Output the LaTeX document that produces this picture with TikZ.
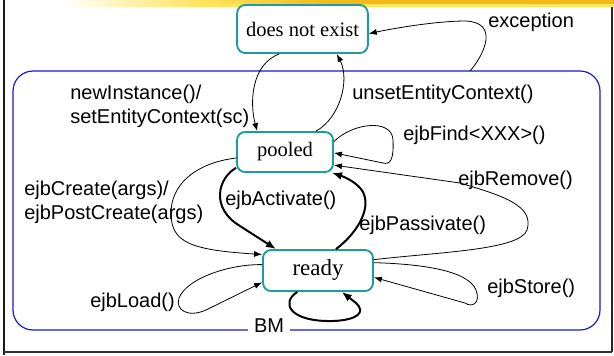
\documentclass[tikz,border=0pt]{standalone}
\usepackage{fontspec}
\setmainfont{Liberation Serif}
\setsansfont{Liberation Sans}
\usetikzlibrary{arrows.meta}

\definecolor{stateteal}{RGB}{30,155,155}
\definecolor{boxblue}{RGB}{25,25,205}
\definecolor{bandgold}{RGB}{245,185,25}
\definecolor{bandlight}{RGB}{255,228,95}

\tikzset{
  state/.style={draw=stateteal, line width=1.4pt, rounded corners=6pt, fill=white, inner sep=0pt},
  trans/.style={-{Latex[length=6pt,width=4.5pt]}, line width=0.6pt},
  heavy/.style={-{Latex[length=7.5pt,width=6pt]}, line width=1.5pt},
  lbl/.style={font=\sffamily\fontsize{15}{18}\selectfont, inner sep=0pt, anchor=west, align=left},
}

\begin{document}
\begin{tikzpicture}[x=0.75pt, y=-0.75pt]
            \useasboundingbox (0,0) rectangle (614,355);

            % Slide band and frame
            \shade[left color=white, right color=bandlight] (60,0) rectangle (200,6);
            \fill[bandlight] (200,0) rectangle (614,7);
            \shade[left color=bandlight, right color=bandgold] (200,0) rectangle (330,3.5);
            \fill[bandgold] (330,0) rectangle (614,3.5);
            \draw[line width=1.9pt, black!90] (4,0) -- (4,355);
            \draw[line width=1.5pt, black!85] (612,7) -- (612,352);
            \draw[line width=1.2pt, black!80] (4,352) -- (612,352);

            % Region holding the live bean states
            \draw[boxblue, line width=0.9pt, rounded corners=15pt] (13,71) rectangle (600,330);

            % States
            \node[state, minimum width=98pt, minimum height=36pt, font=\fontsize{15.4}{18}\selectfont] (dne) at (302.5,29) {does not exist};
            \node[state, minimum width=72pt, minimum height=30pt, font=\fontsize{15.4}{18}\selectfont] (pooled) at (285,152) {pooled};
            \node[state, minimum width=82.5pt, minimum height=30.75pt, font=\fontsize{17.2}{20}\selectfont] (ready) at (318,270.5) {ready};

            % Into and out of the pool
            \draw[trans] (dne.-133) .. controls (250,65) and (250,105) .. (pooled.143);
            \draw[trans] (pooled.34) .. controls (340,118) and (350,80) .. (dne.-36);
            \coordinate (excstart) at (470,71);
            \draw[trans] (excstart) .. controls (484,55) and (500,22) .. (465,21) .. controls (440,21) and (400,27) .. (dne.-4);

            % Finder loop on the pool
            \draw[trans] (pooled.12) .. controls (352,123) and (392,118) .. (393,140) .. controls (394,160) and (390,165) .. (383,163) -- (pooled.-1);

            % Between pooled and ready
            \draw[trans] (pooled.-173) .. controls (195,163) and (170,185) .. (171,215) .. controls (172,242) and (190,250) .. (ready.164);
            \draw[heavy] (pooled.-162) .. controls (218,178) and (210,208) .. (240,226) -- (ready.153);
            \draw[heavy] (ready.50) .. controls (355,235) and (372,210) .. (363,192) .. controls (358,183) and (345,177) .. (pooled.-24);
            \draw[trans] (ready.11) .. controls (440,252) and (520,250) .. (527,230) .. controls (535,205) and (500,195) .. (460,183) -- (pooled.-15);

            % Loops on ready
            \draw[trans] (ready.174) .. controls (230,264) and (187,278) .. (179,298) .. controls (175,310) and (188,318) .. (206,310) -- (ready.192);
            \draw[trans] (ready.8) .. controls (420,264) and (468,270) .. (476,290) .. controls (481,303) and (472,308) .. (465,303) -- (ready.-7);
            \draw[heavy] (ready.-134) .. controls (280,303) and (290,322) .. (333,321) .. controls (358,320) and (366,312) .. (356,303) -- (ready.-42);

            % Transition labels
            \node[lbl] (lblexc) at (488,22) {exception};
            \node[lbl] (lblnew) at (70,106) {newInstance()/\\setEntityContext(sc)};
            \node[lbl] (lblunset) at (352,94) {unsetEntityContext()};
            \node[lbl] (lblfind) at (403,135) {ejbFind<XXX>()};
            \node[lbl] (lblremove) at (458,180) {ejbRemove()};
            \node[lbl] (lblcreate) at (24,202) {ejbCreate(args)/\\ejbPostCreate(args)};
            \node[lbl] (lblact) at (225,200) {ejbActivate()};
            \node[lbl] (lblpass) at (359,225) {ejbPassivate()};
            \node[lbl] (lblload) at (90,302) {ejbLoad()};
            \node[lbl] (lblstore) at (487,288) {ejbStore()};
            \node[lbl, anchor=center, fill=white, inner xsep=4.5pt, inner ysep=1pt] (lblbm) at (269,326) {BM};
\end{tikzpicture}
\end{document}
